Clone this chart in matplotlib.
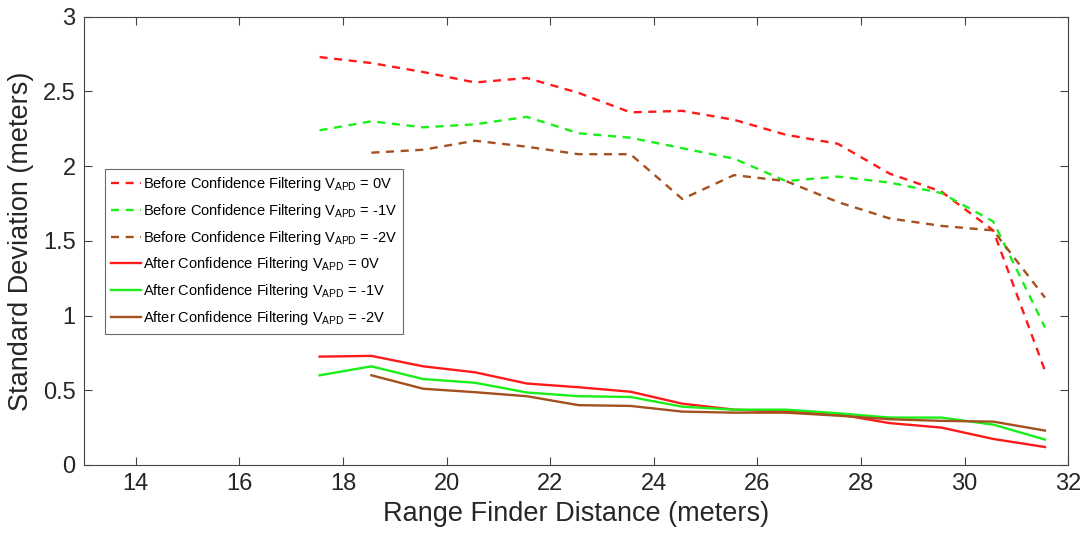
import matplotlib
matplotlib.use("Agg")
import matplotlib.pyplot as plt
import numpy as np

plt.rcParams['font.family'] = ['Liberation Sans', 'DejaVu Sans']

# distances (meters)
dist = [17.55, 18.55, 19.55, 20.55, 21.55, 22.55, 23.55, 24.55,
        25.55, 26.55, 27.55, 28.55, 29.55, 30.55, 31.55]
dist_2v = dist[1:]

# before confidence filtering
before_0v = [2.73, 2.69, 2.63, 2.56, 2.59, 2.49, 2.36, 2.37,
             2.31, 2.21, 2.15, 1.95, 1.83, 1.57, 0.63]
before_1v = [2.24, 2.30, 2.26, 2.28, 2.33, 2.22, 2.19, 2.12,
             2.05, 1.90, 1.93, 1.89, 1.82, 1.63, 0.92]
before_2v = [2.09, 2.11, 2.17, 2.13, 2.08, 2.08, 1.78,
             1.94, 1.90, 1.76, 1.65, 1.60, 1.57, 1.12]

# after confidence filtering
after_0v = [0.725, 0.73, 0.66, 0.62, 0.545, 0.52, 0.49, 0.41,
            0.37, 0.357, 0.34, 0.28, 0.25, 0.174, 0.12]
after_1v = [0.60, 0.66, 0.575, 0.55, 0.485, 0.46, 0.455, 0.39,
            0.37, 0.37, 0.346, 0.317, 0.317, 0.27, 0.17]
after_2v = [0.60, 0.51, 0.487, 0.46, 0.40, 0.395, 0.357,
            0.35, 0.35, 0.33, 0.306, 0.295, 0.29, 0.23]

red = '#ff1a1a'
green = '#1aef1a'
brown = '#a4501f'

fig = plt.figure(figsize=(10.89, 5.4), dpi=100)
ax = fig.add_axes([0.077, 0.139, 0.904, 0.830])

lw = 1.7
dash = (3.4, 2.8)
ax.plot(dist, before_0v, '--', dashes=dash, color=red, lw=lw, label=r'Before Confidence Filtering V$_\mathregular{APD}$ = 0V')
ax.plot(dist, before_1v, '--', dashes=dash, color=green, lw=lw, label=r'Before Confidence Filtering V$_\mathregular{APD}$ = -1V')
ax.plot(dist_2v, before_2v, '--', dashes=dash, color=brown, lw=lw, label=r'Before Confidence Filtering V$_\mathregular{APD}$ = -2V')
ax.plot(dist, after_0v, '-', color=red, lw=lw, label=r'After Confidence Filtering V$_\mathregular{APD}$ = 0V')
ax.plot(dist, after_1v, '-', color=green, lw=lw, label=r'After Confidence Filtering V$_\mathregular{APD}$ = -1V')
ax.plot(dist_2v, after_2v, '-', color=brown, lw=lw, label=r'After Confidence Filtering V$_\mathregular{APD}$ = -2V')

ax.set_xlim(13, 32)
ax.set_ylim(0, 3)
ax.set_xticks(np.arange(14, 33, 2))
ax.set_yticks([0, 0.5, 1, 1.5, 2, 2.5, 3])
ax.set_yticklabels(['0', '0.5', '1', '1.5', '2', '2.5', '3'])

ax.tick_params(direction='in', top=True, right=True, length=6, width=0.8,
               color='#444444', labelsize=17, labelcolor='#262626', pad=6)
for s in ax.spines.values():
    s.set_color('#444444')
    s.set_linewidth(0.8)

ax.set_xlabel('Range Finder Distance (meters)', fontsize=19.5, color='#262626', labelpad=4)
ax.set_ylabel('Standard Deviation (meters)', fontsize=19.5, color='#262626', labelpad=6)

leg = ax.legend(loc='upper left', bbox_to_anchor=(0.0213, 0.661), fontsize=10.5,
                frameon=True, fancybox=False, edgecolor='#444444',
                handlelength=2.0, handletextpad=0.15, labelspacing=0.6,
                borderpad=0.45, borderaxespad=0)
leg.get_frame().set_linewidth(0.8)

fig.savefig('out.png', dpi=100)
